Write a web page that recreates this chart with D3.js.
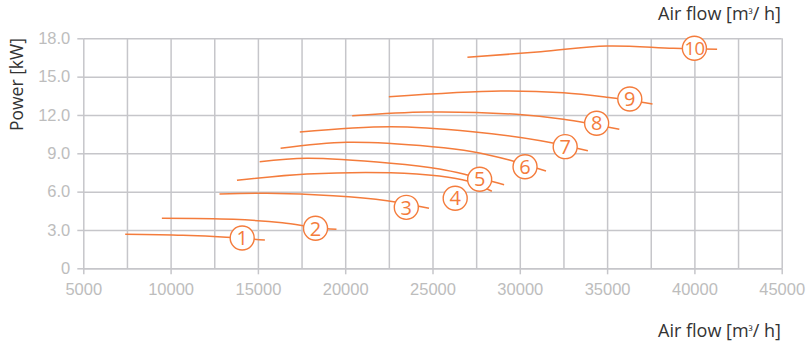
<!DOCTYPE html>
<html>
<head>
<meta charset="utf-8">
<script src="https://cdn.jsdelivr.net/npm/d3@7"></script>
<style>
  html, body { margin: 0; padding: 0; background: #fff; }
  svg { display: block; font-family: "Open Sans", "Noto Sans", sans-serif; }
</style>
</head>
<body>
<svg id="chart" width="808" height="345"></svg>
<script>
// ---- data ----
const xTickValues = [5000, 10000, 15000, 20000, 25000, 30000, 35000, 40000, 45000];
const xGridValues = [7500, 10000, 12500, 15000, 17500, 20000, 22500, 25000, 27500, 30000, 32500, 35000, 37500, 40000, 42500, 45000];
const yTickValues = [0, 3, 6, 9, 12, 15, 18];
const curveNames = ["1", "2", "3", "4", "5", "6", "7", "8", "9", "10"];

// [air flow m3/h, power kW]
const curve1 = [[7400, 2.66], [10700, 2.58], [13200, 2.43], [15400, 2.21]];
const curve2 = [[9500, 3.91], [13600, 3.83], [16400, 3.57], [18300, 3.2], [19500, 3.05]];
const curve3 = [[12800, 5.81], [15500, 5.87], [19300, 5.68], [22400, 5.29], [24800, 4.70]];
const curve4 = [[13800, 6.89], [17800, 7.38], [22600, 7.48], [25400, 7.22], [27000, 6.83], [28400, 6.03]];
const curve5 = [[15100, 8.34], [17800, 8.61], [22600, 8.22], [25400, 7.77], [27000, 7.30], [29100, 6.54]];
const curve6 = [[16300, 9.39], [20100, 9.86], [25000, 9.52], [27300, 9.13], [29400, 8.48], [31500, 7.61]];
const curve7 = [[17400, 10.67], [22600, 11.08], [27300, 10.69], [31200, 9.99], [33900, 9.20]];
const curve8 = [[20400, 11.94], [24700, 12.23], [29800, 12.05], [32500, 11.66], [35700, 10.88]];
const curve9 = [[22500, 13.43], [28900, 13.88], [32500, 13.74], [35000, 13.38], [37600, 12.86]];
const curve10 = [[27000, 16.51], [31200, 16.95], [35000, 17.40], [38800, 17.22], [41300, 17.14]];
const curves = [curve1, curve2, curve3, curve4, curve5, curve6, curve7, curve8, curve9, curve10];

// label marker positions [air flow, power]
const labelAirflow = [14100, 18300, 23500, 26300, 27700, 30300, 32600, 34400, 36300, 40000];
const labelPower = [2.37, 3.13, 4.77, 5.48, 6.97, 7.95, 9.52, 11.35, 13.25, 17.22];

// ---- drawing ----
const svg = d3.select("#chart");
const ORANGE = "#f47c3c";
const GRID = "#c6c6ca";
const TICKTXT = "#bdbdbd";
const TITLE = "#333333";

const x = d3.scaleLinear().domain([5000, 45000]).range([83.3, 781.7]);
const y = d3.scaleLinear().domain([0, 18]).range([268.3, 38.3]);
const plotH = y(0) - y(18);
const plotW = x(45000) - x(5000);

// vertical grid
const gx = svg.append("g").attr("transform", `translate(0,${y(0)})`)
  .call(d3.axisBottom(x).tickValues(xGridValues).tickSize(-plotH).tickFormat(""));
gx.select(".domain").remove();
gx.selectAll("line").attr("stroke", GRID).attr("stroke-width", 1.5);

// horizontal grid
const gy = svg.append("g").attr("transform", `translate(${x(5000)},0)`)
  .call(d3.axisLeft(y).tickValues(yTickValues).tickSize(-plotW).tickFormat(""));
gy.select(".domain").remove();
gy.selectAll("line").attr("stroke", GRID).attr("stroke-width", 1.5);

// x axis with labels
const xa = svg.append("g").attr("transform", `translate(0,${y(0)})`)
  .call(d3.axisBottom(x).tickValues(xTickValues).tickSizeInner(6).tickSizeOuter(0).tickPadding(9).tickFormat(d3.format("d")));
xa.select(".domain").attr("stroke", GRID).attr("stroke-width", 1.5);
xa.selectAll("line").attr("stroke", GRID).attr("stroke-width", 1.5);
xa.selectAll("text").attr("fill", TICKTXT).style("font-size", "16.5px").attr("font-family", null);

// y axis with labels
const ya = svg.append("g").attr("transform", `translate(${x(5000)},0)`)
  .call(d3.axisLeft(y).tickValues(yTickValues).tickSizeInner(6).tickSizeOuter(0).tickPadding(7)
    .tickFormat(d => d === 0 ? "0" : d.toFixed(1)));
ya.select(".domain").attr("stroke", GRID).attr("stroke-width", 1.5);
ya.selectAll("line").attr("stroke", GRID).attr("stroke-width", 1.5);
ya.selectAll("text").attr("fill", TICKTXT).style("font-size", "16.5px").attr("font-family", null);

// curves
const line = d3.line().x(d => x(d[0])).y(d => y(d[1])).curve(d3.curveCatmullRom.alpha(0.5));
svg.append("g").selectAll("path").data(curves).join("path")
  .attr("d", line).attr("fill", "none").attr("stroke", ORANGE).attr("stroke-width", 1.5);

// labels
const lab = svg.append("g").selectAll("g").data(curveNames).join("g")
  .attr("transform", (d, i) => `translate(${x(labelAirflow[i])},${y(labelPower[i])})`);
lab.append("circle").attr("r", 12).attr("fill", "#fff").attr("stroke", ORANGE).attr("stroke-width", 1.4);
lab.append("text").text(d => d).attr("text-anchor", "middle").attr("dy", "0.36em")
  .attr("fill", ORANGE).style("font-size", d => d.length > 1 ? "18.5px" : "20px")
  .style("letter-spacing", d => d.length > 1 ? "-0.8px" : null);

// titles
function airTitle(yPos) {
  const t = svg.append("text").attr("x", 781).attr("y", yPos)
    .attr("text-anchor", "end").attr("fill", TITLE).style("font-size", "18px");
  t.append("tspan").text("Air flow [m");
  t.append("tspan").text("³").style("font-size", "12px").attr("dy", "-1");
  t.append("tspan").text("/ h]").attr("dy", "1");
}
airTitle(20);
airTitle(337);
svg.append("text").text("Power [kW]").attr("transform", "translate(23,131) rotate(-90)")
  .attr("text-anchor", "start").attr("fill", TITLE).style("font-size", "17.5px");
</script>
</body>
</html>
